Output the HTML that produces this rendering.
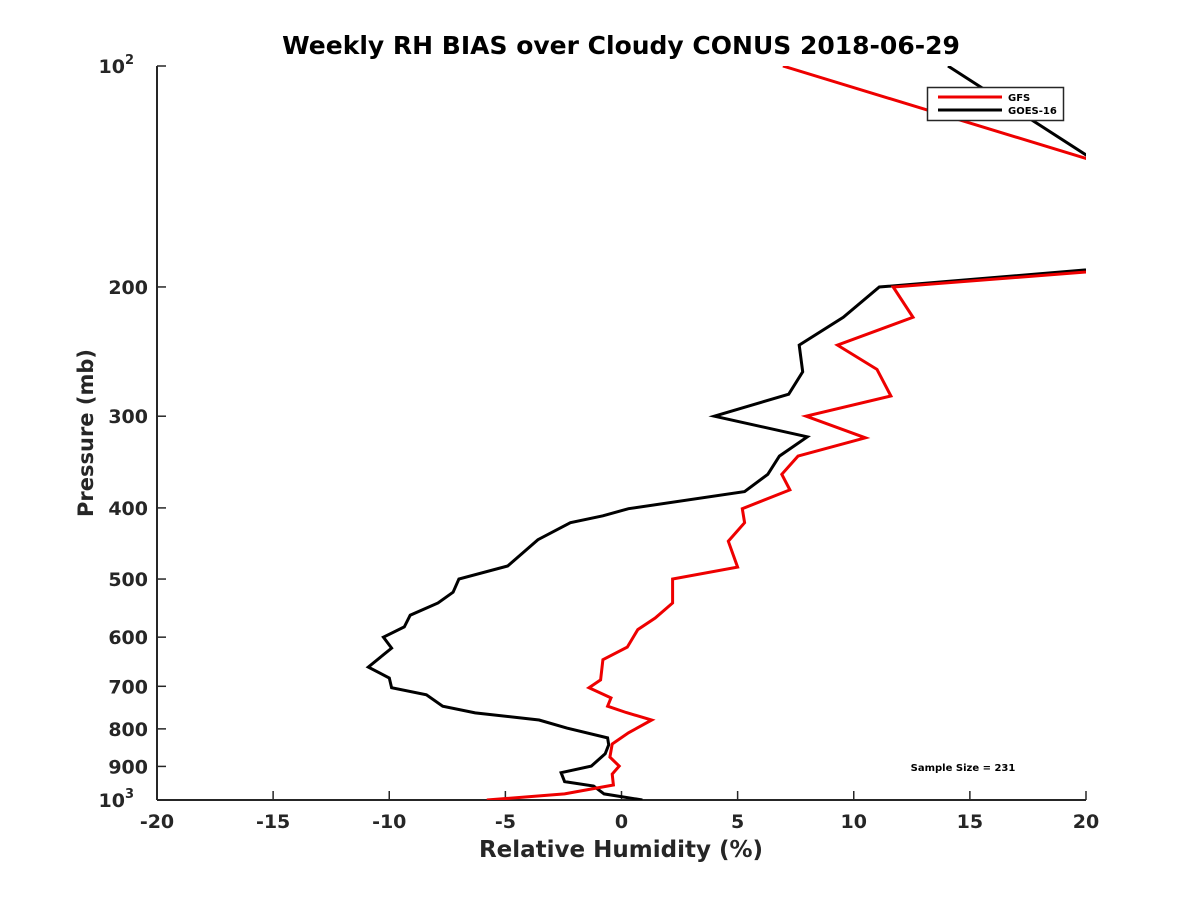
<!DOCTYPE html>
<html><head><meta charset="utf-8"><style>
body{margin:0;background:#fff}
svg{font-family:"DejaVu Sans","Liberation Sans",sans-serif;font-weight:bold}
</style></head><body>
<svg id="chart" width="1200" height="900">
<defs><clipPath id="plotclip"><rect x="157" y="66" width="929" height="734"/></clipPath></defs>
<text x="621" y="54" text-anchor="middle" font-size="25" fill="#000">Weekly RH BIAS over Cloudy CONUS 2018-06-29</text>
<g id="axes"></g>
<g id="series" clip-path="url(#plotclip)"></g>
<text x="621" y="857" text-anchor="middle" font-size="23" fill="#262626">Relative Humidity (%)</text>
<text transform="translate(93,433) rotate(-90)" text-anchor="middle" font-size="21" fill="#262626">Pressure (mb)</text>
<g>
<rect x="927.5" y="87.5" width="136" height="33" fill="#fff" stroke="#262626" stroke-width="1.5"/>
<line x1="938" y1="97" x2="1002" y2="97" stroke="#e00" stroke-width="3"/>
<text x="1008" y="101" font-size="10" fill="#000">GFS</text>
<line x1="938" y1="110" x2="1002" y2="110" stroke="#000" stroke-width="3"/>
<text x="1008" y="114" font-size="10" fill="#000">GOES-16</text>
</g>
<text x="963" y="771" text-anchor="middle" font-size="10" fill="#000">Sample Size = 231</text>
</svg>
<script>
const xTicks=[-20,-15,-10,-5,0,5,10,15,20];
const yTicks=[100,200,300,400,500,600,700,800,900,1000];
const gfsP=[100,150,175,200,220,240,259,281.6,300,321,340,360,378,401,419,444,481.6,500,539,565,586,619,644,686,703,726,745,760,778,810,839,874,899,922,954,981,1000];
const gfsX=[6.95,25.2,35.3,11.7,12.55,9.3,11.0,11.6,7.95,10.5,7.6,6.9,7.25,5.2,5.3,4.6,5.0,2.2,2.2,1.45,0.7,0.25,-0.8,-0.9,-1.4,-0.45,-0.6,0.2,1.3,0.3,-0.4,-0.5,-0.1,-0.4,-0.35,-2.45,-5.8];
const goesP=[100,150,175,200,220,240,261,280,300,320,340,360,380,401,410,419,442,480,500,521,539,560,581,600,621,659,682,703,719,745,761,778,798,823,841,865,899,918,944,957,981,1000];
const goesX=[14.06,22.7,33.3,11.1,9.55,7.65,7.8,7.2,4.0,8.0,6.8,6.3,5.3,0.3,-0.8,-2.2,-3.6,-4.9,-7.0,-7.25,-7.9,-9.1,-9.35,-10.25,-9.9,-10.9,-10.0,-9.9,-8.4,-7.7,-6.3,-3.55,-2.35,-0.6,-0.55,-0.7,-1.3,-2.6,-2.45,-1.2,-0.75,0.9];
const X0=157,X1=1086,Y0=66,Y1=800;
const xs=v=>X0+(v+20)/40*(X1-X0);
const ys=p=>Y0+(Math.log10(p)-2)*(Y1-Y0);
const NS="http://www.w3.org/2000/svg";
const axes=document.getElementById('axes'),ser=document.getElementById('series');
function mk(tag,attrs,parent){const e=document.createElementNS(NS,tag);for(const k in attrs)e.setAttribute(k,attrs[k]);parent.appendChild(e);return e;}
let e=mk('line',{x1:X0,y1:Y0,x2:X0,y2:Y1,stroke:'#262626','stroke-width':2},axes);


e=mk('line',{x1:X0,y1:Y1,x2:X1,y2:Y1,stroke:'#262626','stroke-width':2},axes);


xTicks.forEach(v=>{
 const t=mk('line',{x1:xs(v),y1:Y1,x2:xs(v),y2:Y1-9,stroke:'#262626','stroke-width':1.5},axes);
 
 
 const l=mk('text',{x:xs(v),y:828,'text-anchor':'middle','font-size':19,fill:'#262626'},axes);
 l.textContent=v;
 
 
});
yTicks.forEach(p=>{
 const y=ys(p);
 const t=mk('line',{x1:X0,y1:y,x2:X0+9,y2:y,stroke:'#262626','stroke-width':1.5},axes);
 
 
 const l=mk('text',{x:148,y:y+7,'text-anchor':'end','font-size':19,fill:'#262626'},axes);
 if(p===100||p===1000){
  l.textContent='10';
  const s=mk('tspan',{dy:-9,'font-size':13},l);s.textContent=p===100?'2':'3';
  l.setAttribute('x',134);
 } else l.textContent=p;
 
 
});
function line(P,X,color,name){
 const pts=P.map((p,i)=>xs(X[i]).toFixed(1)+','+ys(p).toFixed(1)).join(' ');
 const pl=mk('polyline',{points:pts,fill:'none',stroke:color,'stroke-width':3,'stroke-linejoin':'miter'},ser);
 
 
}
line(goesP,goesX,'#000','goes16-line');
line(gfsP,gfsX,'#e00','gfs-line');
</script>
</body></html>
